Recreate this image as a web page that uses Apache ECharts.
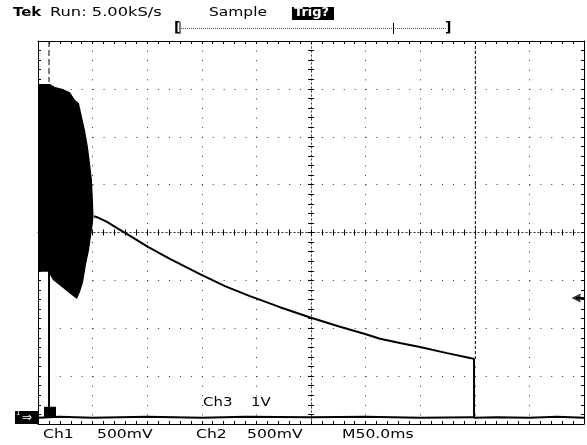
<!DOCTYPE html>
<html><head><meta charset="utf-8">
<script src="https://cdn.jsdelivr.net/npm/echarts@6/dist/echarts.min.js"></script>
<style>html,body{margin:0;padding:0;background:#fff}#c{width:587px;height:445px}</style>
</head><body><div id="c"></div><script>
// Horizontal: ms relative to screen centre (M 50.0ms/div). Vertical: divisions.
const xRange = [-250, 250, 50];
const yRange = [-4, 4, 1];
// Ch1 burst envelope (upper edge left->right, lower edge right->left)
const burstUpper = [[-250,3.10],[-239,3.10],[-234.4,3.04],[-227.1,3.00],[-220.7,2.93],[-216.1,2.77],[-212.5,2.70],[-209.7,2.41],[-207,2.14],[-204.3,1.79],[-202.4,1.45],[-200.6,1.10],[-199.7,0.68],[-199.2,0.37]];
const burstLower = [[-199.2,0.32],[-199.9,0.16],[-203.3,-0.37],[-206.1,-0.68],[-208.8,-1.05],[-211.5,-1.24],[-214.3,-1.39],[-220.7,-1.28],[-227.1,-1.16],[-236.3,-0.99],[-240.8,-0.82],[-250,-0.82]];
// decaying DC level after the burst, then drop to ground
const decay = [[-198.7,0.34],[-196,0.32],[-186.8,0.22],[-177.6,0.09],[-165.7,-0.07],[-149.3,-0.30],[-129.2,-0.55],[-101.7,-0.87],[-78.8,-1.12],[-55.9,-1.33],[-28.4,-1.56],[0,-1.78],[26.6,-1.97],[49.5,-2.12],[63.2,-2.22],[81.4,-2.31],[99.8,-2.39],[124.6,-2.52],[145.6,-2.62],[149.3,-2.64],[149.3,-3.87],[170,-3.86],[200,-3.87],[225,-3.85],[250,-3.87]];
const baseline = [[-250,-3.87],[-230,-3.85],[-200,-3.87],[-150,-3.85],[-100,-3.87],[-60,-3.85],[0,-3.86],[50,-3.85],[100,-3.87],[149.3,-3.86]];
const trigLine = [[-239.9,-0.82],[-239.9,-3.87]];
const trigDash = [[-239.9,4],[-239.9,3.14]];
const cursor = [[150.5,4],[150.5,-2.64]];
const blockX = [-244.5,-233.5], blockY = [-3.87,-3.64];
const trigLevel = [242.7,-1.37];
const bottomLabels = [['Ch1',43],['500mV',97],['Ch2',196],['500mV',247],['M50.0ms',342]];

const chart = echarts.init(document.getElementById('c'));
const G = {left:38, right:3, top:41, bottom:21};
const K = '#000';
function ax(grid, pos, onZero, opts){
  const isX = (pos==='top'||pos==='bottom');
  return Object.assign({type:'value', gridIndex:grid, position:pos,
    min:isX?xRange[0]:yRange[0], max:isX?xRange[1]:yRange[1], interval:isX?xRange[2]:yRange[2],
    axisLine:{show:true, onZero:onZero, lineStyle:{color:K,width:1}},
    axisTick:{show:true, inside:true, length:3, lineStyle:{color:K}},
    minorTick:{show:true, splitNumber:5, length:3, lineStyle:{color:K}},
    axisLabel:{show:false}, splitLine:{show:false}}, opts||{});
}
const centreLine = {show:true, onZero:true, lineStyle:{color:'#444', width:1, type:[1,3]}};
const option = {
  animation:false, backgroundColor:'#fff',
  grid:[G,G,G],
  xAxis:[
    ax(0,'bottom',false,{splitLine:{show:true, lineStyle:{color:'#333', width:1, type:[1,8.575]}}}),
    ax(0,'top',false),
    ax(1,'bottom',true,{axisLine:centreLine}),
    ax(2,'top',true,{axisLine:centreLine})
  ],
  yAxis:[
    ax(0,'left',false,{splitLine:{show:true, lineStyle:{color:'#333', width:1, type:[1,9.92]}}}),
    ax(0,'right',false),
    ax(1,'left',true,{axisLine:centreLine}),
    ax(2,'right',true,{axisLine:centreLine})
  ],
  series:[
    {type:'custom', coordinateSystem:'cartesian2d', xAxisIndex:0, yAxisIndex:0, data:[[0,0]], z:3,
     renderItem:(p,api)=>({type:'polygon', shape:{points:burstUpper.concat(burstLower).map(q=>api.coord(q))}, style:{fill:K}})},
    {type:'line', data:decay, symbol:'none', lineStyle:{color:K,width:2}, z:4},
    {type:'line', data:baseline, symbol:'none', lineStyle:{color:K,width:2}, z:4,
     markArea:{silent:true, itemStyle:{color:K, opacity:1}, data:[[{coord:[blockX[0],blockY[0]]},{coord:[blockX[1],blockY[1]]}]]}},
    {type:'line', data:trigLine, symbol:'none', lineStyle:{color:K,width:2}, z:5},
    {type:'line', data:trigDash, symbol:'none', lineStyle:{color:K,width:1,type:[6,3]}, z:5},
    {type:'line', data:cursor, symbol:'none', lineStyle:{color:K,width:1,type:[3,2]}, z:5},
    {type:'line', data:[trigLevel,[250,trigLevel[1]]], symbol:'none', lineStyle:{color:K,width:2}, z:5},
    {type:'scatter', data:[trigLevel], symbol:'triangle', symbolSize:[9,9], symbolRotate:90, itemStyle:{color:K}, z:6}
  ],
  graphic:[
    {type:'text', x:13, y:19, style:{text:'Tek', font:'bold 13px "DejaVu Sans"', fill:K, textVerticalAlign:'bottom'}, scaleX:1.15},
    {type:'text', x:50, y:19, style:{text:'Run: 5.00kS/s', font:'13px "DejaVu Sans"', fill:K, textVerticalAlign:'bottom'}, scaleX:1.25},
    {type:'text', x:209, y:19, style:{text:'Sample', font:'13px "DejaVu Sans"', fill:K, textVerticalAlign:'bottom'}, scaleX:1.19},
    {type:'rect', shape:{x:292, y:7, width:42, height:13}, style:{fill:K}},
    {type:'text', x:294, y:19, style:{text:'Trig?', font:'bold 13px "DejaVu Sans"', fill:'#fff', textVerticalAlign:'bottom'}},
    {type:'text', x:174, y:35, style:{text:'[', font:'bold 14px "DejaVu Sans"', fill:K, textVerticalAlign:'bottom'}},
    {type:'line', shape:{x1:180, y1:22, x2:180, y2:34}, style:{stroke:K, lineWidth:1}},
    {type:'line', shape:{x1:181, y1:28.5, x2:447, y2:28.5}, style:{stroke:'#555', lineWidth:1, lineDash:[1,1]}},
    {type:'line', shape:{x1:393.5, y1:23, x2:393.5, y2:34}, style:{stroke:K, lineWidth:1}},
    {type:'text', x:445, y:35, style:{text:']', font:'bold 14px "DejaVu Sans"', fill:K, textVerticalAlign:'bottom'}},
    {type:'text', x:203, y:409, style:{text:'Ch3', font:'13px "DejaVu Sans"', fill:K, textVerticalAlign:'bottom'}, scaleX:1.15},
    {type:'text', x:251, y:409, style:{text:'1V', font:'13px "DejaVu Sans"', fill:K, textVerticalAlign:'bottom'}, scaleX:1.15},
    {type:'rect', shape:{x:15, y:411, width:23, height:13}, style:{fill:K}},
    {type:'text', x:16, y:417, style:{text:'1', font:'7px "DejaVu Sans"', fill:'#fff', textVerticalAlign:'bottom'}},
    {type:'text', x:22, y:424, style:{text:'\u21D2', font:'12px "DejaVu Sans"', fill:'#fff', textVerticalAlign:'bottom'}}
  ].concat(bottomLabels.map(([t,x])=>({type:'text', x:x, y:441, style:{text:t, font:'13px "DejaVu Sans"', fill:K, textVerticalAlign:'bottom'}, scaleX:1.2})))
};
chart.setOption(option);
</script></body></html>
